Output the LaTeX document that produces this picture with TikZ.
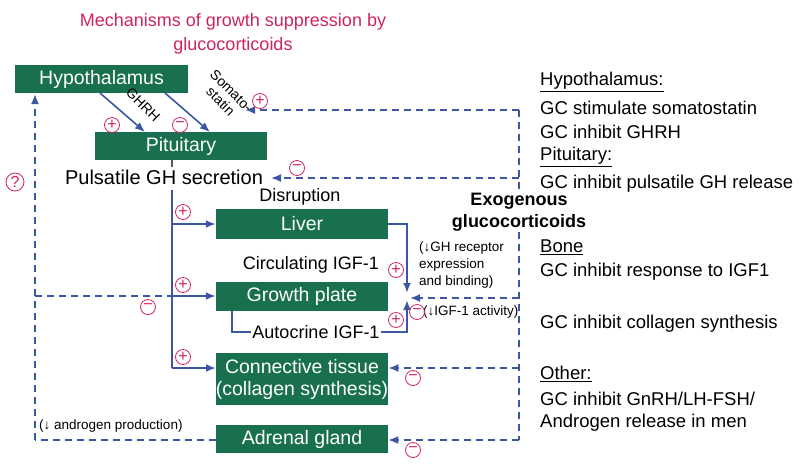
\documentclass[tikz,border=0pt]{standalone}
\usepackage{fontspec}
\setmainfont{Liberation Sans}
\usetikzlibrary{arrows.meta}
\definecolor{gbox}{HTML}{18704E}
\definecolor{bl}{HTML}{3B56A3}
\definecolor{mag}{HTML}{D0245F}
\begin{document}
\begin{tikzpicture}[x=1pt,y=-1pt,
 box/.style={fill=gbox,text=white,font=\fontsize{19.5}{22}\selectfont,inner sep=0pt,align=center},
 sol/.style={draw=bl,line width=2pt,-{Latex[length=10pt,width=8pt]}},
 dsh/.style={draw=bl,line width=1.8pt,dash pattern=on 7pt off 5pt},
 dar/.style={dsh,-{Latex[length=10pt,width=8pt]}},
 pl/.style={circle,draw=mag,line width=0.8pt,text=mag,inner sep=0pt,minimum size=15pt,font=\fontsize{16}{16}\selectfont},
 lbl/.style={font=\fontsize{20}{22}\selectfont,inner sep=1pt},
 sm/.style={font=\fontsize{13.5}{17.5}\selectfont,inner sep=1pt,align=left},
 rt/.style={font=\fontsize{18.5}{20}\selectfont,anchor=west,inner sep=0pt}]
\useasboundingbox (0,0) rectangle (800,467);
\node[text=mag,font=\fontsize{18}{24}\selectfont,align=center] (title) at (233,34) {Mechanisms of growth suppression by\\glucocorticoids};
\node[box,minimum width=173pt,minimum height=28pt] (hyp) at (101.5,79) {Hypothalamus};
\node[box,minimum width=172pt,minimum height=28pt] (pit) at (181,146) {Pituitary};
\node[lbl] (pgh) at (164,177) {Pulsatile GH secretion};
\node[box,minimum width=172pt,minimum height=30pt] (liv) at (302,224) {Liver};
\node[box,minimum width=172pt,minimum height=29pt] (gp) at (302,296) {Growth plate};
\node[box,minimum width=172pt,minimum height=52pt] (ct) at (302,379) {Connective tissue\\(collagen synthesis)};
\node[box,minimum width=172pt,minimum height=28pt] (adr) at (302,439) {Adrenal gland};
\node[lbl,font=\fontsize{18}{20}\selectfont] (dis) at (300,197) {Disruption};
\node[lbl,font=\fontsize{18}{20}\selectfont] (circ) at (311,265) {Circulating IGF-1};
\node[lbl,font=\fontsize{18}{20}\selectfont] (auto) at (316,332) {Autocrine IGF-1};
\node[font=\fontsize{18}{22}\selectfont\bfseries,align=center] (exo) at (519,212) {Exogenous\\glucocorticoids};
\node[sm,anchor=west] (ghr) at (418,265) {(\textdownarrow GH receptor\\expression\\and binding)};
\node[sm,anchor=west] (igfa) at (422,312) {(\textdownarrow IGF-1 activity)};
\node[sm,anchor=west,font=\fontsize{13.5}{16}\selectfont] (andr) at (38,426) {(\textdownarrow\ androgen production)};
% hypothalamus -> pituitary
\draw[sol,line width=1.6pt] (100,93) -- (145,132);
\draw[sol,line width=1.6pt] (165,93) -- (210,132);
\node[font=\fontsize{14}{15}\selectfont,rotate=-45] (ghrh) at (143,105) {GHRH};
\node[font=\fontsize{14}{15}\selectfont,rotate=-45,align=center] (som) at (226,96) {Somato-\\statin};
% pituitary trunk
\draw[gray!70!black,line width=2pt] (pit.south -| 172,0) -- (172,167);
\draw[draw=bl,line width=2pt] (172,190) -- (172,368);
\draw[sol] (172,224) -- (liv.west);
\draw[sol] (172,296) -- (gp.west);
\draw[sol] (172,368) -- (216,368);
\draw[draw=bl,line width=2pt] (232,310.5) -- (232,332) -- (auto.west);
\draw[sol] (liv.east) -- (407,224) -- (407,293);
\draw[sol] (auto.east) -- (407,332) -- (407,300);
% exogenous dashed
\draw[dsh] (519,110) -- (519,190);
\draw[dsh] (519,232) -- (519,440);
\draw[dar] (519,110) -- (245,110);
\draw[dar] (519,178) -- (271,178);
\draw[dar] (519,298) -- (410,298);
\draw[dar] (519,368) -- (ct.east |- 0,368);
\draw[dar] (519,440) -- (adr.east |- 0,440);
% left dashed
\draw[dsh] (adr.west |- 0,440) -- (35,440);
\draw[dar] (35,440) -- (35,94);
\draw[dsh] (35,296) -- (172,296);
% signs
\node[pl] (p1) at (112,125) {+};
\node[pl] (m1) at (180,125) {−};
\node[pl] (p2) at (260,101) {+};
\node[pl] (m2) at (297,168) {−};
\node[pl] (p3) at (183,212) {+};
\node[pl] (p4) at (183,285) {+};
\node[pl] (p5) at (183,357) {+};
\node[pl] (p6) at (396,270) {+};
\node[pl] (p7) at (396,320) {+};
\node[pl] (m3) at (417,312) {−};
\node[pl] (m4) at (413,378) {−};
\node[pl] (m5) at (413,450) {−};
\node[pl] (m6) at (148,307) {−};
\node[pl,minimum size=18pt] (q) at (15,182) {?};
% right texts
\node[rt] (r1) at (540,82) {\underline{Hypothalamus:}};
\node[rt] (r2) at (540,108) {GC stimulate somatostatin};
\node[rt] (r3) at (540,132) {GC inhibit GHRH};
\node[rt] (r4) at (540,157) {\underline{Pituitary:}};
\node[rt] (r5) at (540,184) {GC inhibit pulsatile GH release};
\node[rt] (r6) at (540,247) {\underline{Bone}};
\node[rt] (r7) at (540,272) {GC inhibit response to IGF1};
\node[rt] (r8) at (540,324) {GC inhibit collagen synthesis};
\node[rt] (r9) at (540,374) {\underline{Other:}};
\node[rt] (r10) at (540,399) {GC inhibit GnRH/LH-FSH/};
\node[rt] (r11) at (540,423) {Androgen release in men};
\end{tikzpicture}
\end{document}
